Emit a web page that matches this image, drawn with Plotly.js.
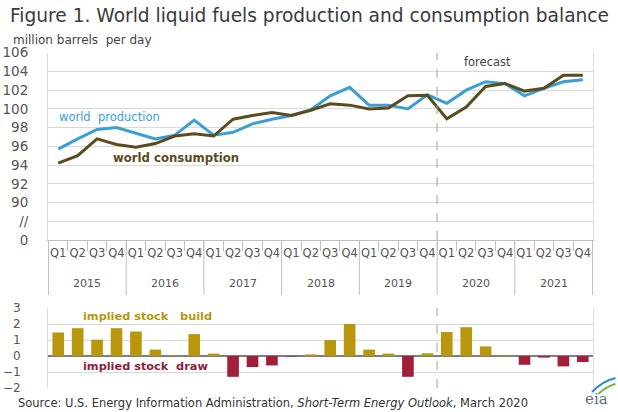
<!DOCTYPE html>
<html>
<head>
<meta charset="utf-8">
<script src="https://cdn.plot.ly/plotly-3.0.1.min.js"></script>
<style>html,body{margin:0;padding:0;background:#fff}#chart{width:618px;height:412px}</style>
</head>
<body>
<div id="chart"></div>
<script>
// ---- data ----
const years = ["2015","2016","2017","2018","2019","2020","2021"];
const quarters = ["Q1","Q2","Q3","Q4"];
const production = [95.7, 96.8, 97.8, 98.0, 97.4, 96.8, 97.2, 98.8, 97.2, 97.5, 98.4, 98.9, 99.3, 99.9,
                    101.4, 102.3, 100.4, 100.4, 100.0, 101.5, 100.6, 102.0, 102.9, 102.7, 101.4, 102.2, 102.9, 103.1];
const consumption = [94.2, 95.0, 96.8, 96.2, 95.9, 96.3, 97.1, 97.35, 97.1, 98.9, 99.3, 99.6, 99.3, 99.85,
                     100.55, 100.4, 100.0, 100.1, 101.4, 101.45, 98.95, 100.2, 102.4, 102.7, 101.9, 102.2, 103.6, 103.6];
const stockChange = [1.47, 1.74, 1.02, 1.74, 1.53, 0.4, 0.05, 1.37, 0.15, -1.3, -0.69, -0.59, -0.04, 0.1,
                     1.0, 2.0, 0.4, 0.15, -1.3, 0.17, 1.5, 1.8, 0.6, 0.03, -0.55, -0.1, -0.65, -0.38];
const topTickVals = [86, 88, 90, 92, 94, 96, 98, 100, 102, 104, 106];
const topTickText = ["0", "//", "90", "92", "94", "96", "98", "100", "102", "104", "106"];
const forecastStart = "2020";

// ---- build categories ----
const xCat = [], xQtr = [];
years.forEach(y => quarters.forEach(q => { xCat.push(q + " " + y); xQtr.push(q); }));

const BLUE = "#3a9fd6", BROWN = "#5c4b1c", GOLD = "#b8970f", RED = "#a11f3a";
const GRID = "#d9d9d9", TXT = "#555", AX = "#bfbfbf";
const DV = "DejaVu Sans, Verdana, sans-serif";
const xDom = [48/618, 593/618];
const nQ = quarters.length;
const py = v => 1 - v / 412;
const fPos = years.indexOf(forecastStart) * nQ - 0.5;

const traces = [
  {type: "scatter", mode: "lines", x: xCat, y: production, line: {color: BLUE, width: 3}, xaxis: "x", yaxis: "y", hoverinfo: "skip"},
  {type: "scatter", mode: "lines", x: xCat, y: consumption, line: {color: BROWN, width: 3}, xaxis: "x", yaxis: "y", hoverinfo: "skip"},
  {type: "bar", x: xCat, y: stockChange, width: 0.6,
   marker: {color: stockChange.map(v => v >= 0 ? GOLD : RED)}, xaxis: "x2", yaxis: "y2", hoverinfo: "skip"}
];

// year dividers and year labels
const shapes = [];
const annotations = [];
for (let k = 0; k <= years.length; k++) {
  shapes.push({type: "line", xref: "x", yref: "paper", x0: k * nQ - 0.5, x1: k * nQ - 0.5,
               y0: py(295), y1: py(240), line: {color: AX, width: 1}});
}
years.forEach((y, k) => {
  annotations.push({xref: "x", yref: "paper", x: k * nQ + 1.5, y: py(283), xanchor: "center", yanchor: "middle",
                    showarrow: false, text: y, font: {size: 11, color: TXT, family: DV}});
});
// forecast divider
shapes.push({type: "line", xref: "x", yref: "paper", x0: fPos, x1: fPos, y0: py(240), y1: py(52.7),
             line: {color: "#a0a0a0", width: 1, dash: "dash"}});
shapes.push({type: "line", xref: "x2", yref: "paper", x0: fPos, x1: fPos, y0: py(388), y1: py(308),
             line: {color: "#a0a0a0", width: 1, dash: "dash"}});
// eia logo arcs
shapes.push({type: "path", xref: "paper", yref: "paper",
  path: "M 0.958 " + py(392) + " Q 0.975 " + py(381) + " 0.996 " + py(378), line: {color: "#2a8fc9", width: 2}});
shapes.push({type: "path", xref: "paper", yref: "paper",
  path: "M 0.968 " + py(394) + " Q 0.982 " + py(386) + " 0.996 " + py(384), line: {color: "#7cb342", width: 2}});

annotations.push(
  {xref: "paper", yref: "paper", x: 8/618, y: py(16), xanchor: "left", yanchor: "middle", showarrow: false,
   text: "Figure 1. World liquid fuels production and consumption balance",
   font: {size: 18.6, color: "#3a3a3a", family: DV}},
  {xref: "paper", yref: "paper", x: 11/618, y: py(40), xanchor: "left", yanchor: "middle", showarrow: false,
   text: "million barrels  per day", font: {size: 12, color: "#444", family: DV}},
  {xref: "paper", yref: "paper", x: 487/618, y: py(62), xanchor: "center", yanchor: "middle", showarrow: false,
   text: "forecast", font: {size: 11.5, color: "#444", family: DV}},
  {xref: "paper", yref: "paper", x: 57/618, y: py(117), xanchor: "left", yanchor: "middle", showarrow: false,
   text: "world  production", font: {size: 11.5, color: BLUE, family: DV}},
  {xref: "paper", yref: "paper", x: 111/618, y: py(158), xanchor: "left", yanchor: "middle", showarrow: false,
   text: "<b>world consumption</b>", font: {size: 11.7, color: BROWN, family: DV}},
  {xref: "paper", yref: "paper", x: 81/618, y: py(316), xanchor: "left", yanchor: "middle", showarrow: false,
   text: "<b>implied stock   build</b>", font: {size: 11.3, color: GOLD, family: DV}},
  {xref: "paper", yref: "paper", x: 81/618, y: py(366), xanchor: "left", yanchor: "middle", showarrow: false,
   text: "<b>implied stock  draw</b>", font: {size: 11.3, color: "#8e1f3a", family: DV}},
  {xref: "paper", yref: "paper", x: 16/618, y: py(403), xanchor: "left", yanchor: "middle", showarrow: false,
   text: "Source: U.S. Energy Information Administration, <i>Short-Term Energy Outlook</i>, March 2020",
   font: {size: 11.5, color: "#333", family: DV}},
  {xref: "paper", yref: "paper", x: 596/618, y: py(399), xanchor: "center", yanchor: "middle", showarrow: false,
   text: "eia", font: {size: 15, color: "#5f6f7e", family: "DejaVu Serif, serif"}}
);

const layout = {
  width: 618, height: 412,
  margin: {l: 0, r: 0, t: 0, b: 0},
  paper_bgcolor: "#fff", plot_bgcolor: "#fff",
  showlegend: false,
  font: {family: DV, color: TXT, size: 11},
  xaxis: {
    domain: xDom, anchor: "y", type: "category", tickangle: 0,
    tickvals: xCat, ticktext: xQtr, tickson: "boundaries",
    showgrid: false, showline: true, linecolor: AX, linewidth: 1,
    ticks: "outside", ticklen: 10, tickcolor: AX, ticklabelstandoff: 2,
    tickfont: {size: 11.5, color: TXT, family: DV}
  },
  yaxis: {
    domain: [py(240), py(52.7)], range: [86, 106],
    tickvals: topTickVals, ticktext: topTickText,
    gridcolor: GRID, zeroline: false, showline: true, mirror: true, linecolor: GRID,
    ticks: "outside", ticklen: 16, tickcolor: "rgba(0,0,0,0)",
    tickfont: {size: 13.5, color: TXT, family: DV}
  },
  xaxis2: {
    domain: xDom, anchor: "y2", type: "category", matches: "x",
    showticklabels: false, ticks: "", showline: false, showgrid: false
  },
  yaxis2: {
    domain: [py(388), py(308)], range: [-2, 3], dtick: 1,
    gridcolor: GRID, zeroline: true, zerolinecolor: "#7f7f7f", zerolinewidth: 1.5,
    showline: true, mirror: true, linecolor: GRID,
    ticks: "outside", ticklen: 24, tickcolor: "rgba(0,0,0,0)",
    tickfont: {size: 12, color: TXT, family: DV}
  },
  shapes: shapes,
  annotations: annotations
};

Plotly.newPlot("chart", traces, layout, {staticPlot: true, displayModeBar: false});
</script>
</body>
</html>
